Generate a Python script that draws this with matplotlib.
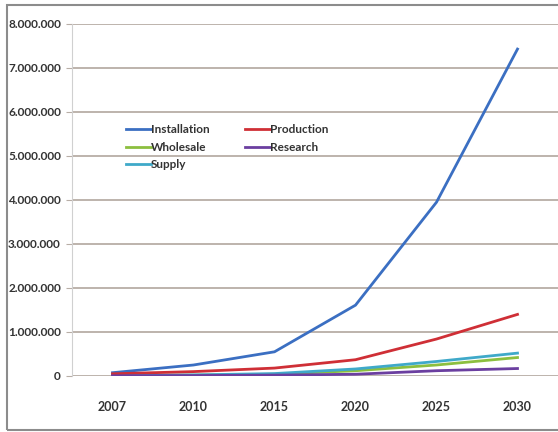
import matplotlib.pyplot as plt
from matplotlib.patches import Rectangle
from matplotlib.ticker import FuncFormatter

years = ["2007", "2010", "2015", "2020", "2025", "2030"]
installation = [75000, 250000, 550000, 1610000, 3950000, 7430000]
production = [50000, 100000, 180000, 370000, 840000, 1400000]
wholesale = [10000, 20000, 40000, 120000, 250000, 420000]
research = [5000, 10000, 20000, 40000, 120000, 170000]
supply = [15000, 25000, 55000, 160000, 330000, 520000]

plt.rcParams["font.family"] = ["Lato", "DejaVu Sans"]

fig = plt.figure(figsize=(5.58, 4.32), dpi=100)
fig.patch.set_facecolor("white")

# outer chart frame
fig.patches.append(Rectangle((7 / 558, 2 / 432), 1.0, 425 / 432,
                             transform=fig.transFigure, fill=False,
                             edgecolor="#8c8c8c", linewidth=1.5))

ax = fig.add_axes([72 / 558, 56 / 432, 486 / 558, 352 / 432])
x = range(len(years))

ax.plot(x, installation, color="#3b6fc2", lw=2.0, label="Installation")
ax.plot(x, wholesale, color="#8cbf3f", lw=2.0, label="Wholesale")
ax.plot(x, supply, color="#3fa9c9", lw=2.0, label="Supply")
ax.plot(x, production, color="#cf2f36", lw=2.0, label="Production")
ax.plot(x, research, color="#6b3fa0", lw=2.0, label="Research")

ax.set_xlim(-0.5, len(years) - 0.5)
ax.set_ylim(0, 8000000)
ax.set_yticks(range(0, 8000001, 1000000))
ax.yaxis.set_major_formatter(FuncFormatter(lambda v, p: f"{int(v):,}".replace(",", ".")))
ax.set_xticks(list(x))
ax.set_xticklabels(years)

ax.grid(axis="y", color="#b8aea6", lw=1.3)
ax.set_axisbelow(True)
for side in ["top", "right", "bottom"]:
    ax.spines[side].set_visible(False)
ax.spines["left"].set_color("#d0d0d0")
ax.tick_params(axis="y", length=4, color="#b8aea6", labelsize=8.5, pad=4)
ax.tick_params(axis="x", length=0, labelsize=9, pad=18)
for lbl in ax.get_xticklabels() + ax.get_yticklabels():
    lbl.set_fontweight("bold")
    lbl.set_color("#333333")

leg = ax.legend(loc="upper left", bbox_to_anchor=(0.09, 0.745), ncol=2,
                frameon=False, fontsize=8.5, handlelength=2.1,
                handletextpad=0.0, columnspacing=3.0, labelspacing=0.55)
for t in leg.get_texts():
    t.set_fontweight("bold")
    t.set_color("#333333")

fig.savefig("out.png", dpi=100)
